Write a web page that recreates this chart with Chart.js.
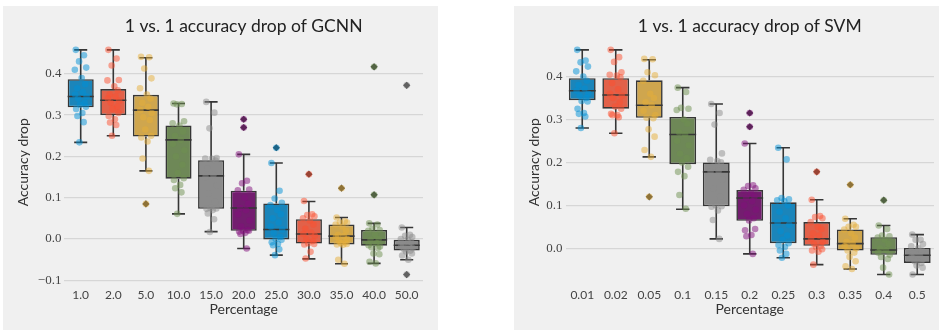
<!DOCTYPE html>
<html>
<head>
<meta charset="utf-8">
<script src="https://cdn.jsdelivr.net/npm/chart.js@4.4.0/dist/chart.umd.min.js"></script>
<style>
  body { margin: 0; background: #fff; width: 939px; height: 330px; position: relative; overflow: hidden; }
  canvas { position: absolute; top: 6px; background: #f0f0f0; }
  #gcnn { left: 3px; }
  #svm { left: 514px; }
</style>
</head>
<body>
<canvas id="gcnn" width="435" height="324"></canvas>
<canvas id="svm" width="425" height="324"></canvas>
<script>
// GCNN panel data
const gcnnLabels = ['1.0', '2.0', '5.0', '10.0', '15.0', '20.0', '25.0', '30.0', '35.0', '40.0', '50.0'];
const gcnnLow  = [0.234, 0.250, 0.165, 0.061, 0.018, -0.023, -0.039, -0.048, -0.060, -0.059, -0.050];
const gcnnQ1   = [0.319, 0.300, 0.248, 0.146, 0.073, 0.020, -0.001, -0.011, -0.013, -0.016, -0.028];
const gcnnMed  = [0.345, 0.336, 0.312, 0.240, 0.153, 0.075, 0.023, 0.012, 0.007, -0.002, -0.015];
const gcnnQ3   = [0.387, 0.363, 0.349, 0.275, 0.191, 0.117, 0.086, 0.048, 0.035, 0.022, -0.002];
const gcnnHigh = [0.458, 0.458, 0.439, 0.328, 0.332, 0.205, 0.184, 0.091, 0.052, 0.038, 0.028];
const gcnnOutliers = [[], [], [0.085], [], [], [0.29, 0.27], [0.221], [0.157], [0.123], [0.417, 0.107], [0.372, -0.086]];
const gcnnPoints = [
  [0.458, 0.445, 0.43, 0.415, 0.41, 0.39, 0.375, 0.365, 0.355, 0.35, 0.345, 0.34, 0.33, 0.325, 0.32, 0.315, 0.305, 0.298, 0.283, 0.234],
  [0.458, 0.437, 0.42, 0.385, 0.384, 0.37, 0.36, 0.35, 0.345, 0.34, 0.335, 0.33, 0.32, 0.315, 0.305, 0.298, 0.29, 0.282, 0.276, 0.25],
  [0.441, 0.44, 0.413, 0.389, 0.365, 0.35, 0.34, 0.33, 0.32, 0.312, 0.305, 0.295, 0.288, 0.265, 0.25, 0.246, 0.236, 0.195, 0.165],
  [0.328, 0.327, 0.326, 0.285, 0.28, 0.275, 0.26, 0.25, 0.24, 0.23, 0.215, 0.2, 0.18, 0.16, 0.147, 0.143, 0.131, 0.123, 0.113, 0.061],
  [0.332, 0.306, 0.268, 0.196, 0.195, 0.194, 0.19, 0.17, 0.155, 0.15, 0.13, 0.11, 0.09, 0.075, 0.074, 0.073, 0.07, 0.062, 0.048, 0.017],
  [0.205, 0.141, 0.135, 0.12, 0.118, 0.1, 0.085, 0.075, 0.07, 0.06, 0.045, 0.03, 0.022, 0.02, 0.02, 0.018, 0.015, 0.012, -0.023],
  [0.184, 0.117, 0.098, 0.088, 0.082, 0.07, 0.06, 0.05, 0.04, 0.03, 0.023, 0.015, 0.005, 0, -0.002, -0.008, -0.012, -0.015, -0.025, -0.039],
  [0.092, 0.06, 0.058, 0.055, 0.05, 0.045, 0.035, 0.025, 0.015, 0.012, 0.008, 0, -0.005, -0.01, -0.012, -0.013, -0.031, -0.047],
  [0.052, 0.043, 0.04, 0.04, 0.035, 0.03, 0.02, 0.01, 0.007, 0.005, 0, -0.005, -0.008, -0.01, -0.012, -0.013, -0.014, -0.05, -0.06],
  [0.038, 0.035, 0.025, 0.022, 0.02, 0.01, 0, -0.002, -0.01, -0.015, -0.018, -0.02, -0.022, -0.035, -0.037, -0.055, -0.059],
  [0.028, 0.01, 0.008, 0.005, 0, -0.002, -0.008, -0.012, -0.015, -0.018, -0.022, -0.025, -0.028, -0.03, -0.035, -0.04, -0.05]
];
const gcnnTicks = [-0.1, 0.0, 0.1, 0.2, 0.3, 0.4];

// SVM panel data
const svmLabels = ['0.01', '0.02', '0.05', '0.1', '0.15', '0.2', '0.25', '0.3', '0.35', '0.4', '0.5'];
const svmLow  = [0.280, 0.268, 0.213, 0.091, 0.022, -0.013, -0.022, -0.038, -0.048, -0.061, -0.061];
const svmQ1   = [0.345, 0.325, 0.304, 0.196, 0.098, 0.064, 0.012, 0.006, -0.005, -0.015, -0.034];
const svmMed  = [0.367, 0.357, 0.333, 0.265, 0.178, 0.117, 0.059, 0.022, 0.011, -0.004, -0.016];
const svmQ3   = [0.396, 0.396, 0.391, 0.306, 0.200, 0.136, 0.107, 0.061, 0.044, 0.026, 0.001];
const svmHigh = [0.462, 0.462, 0.439, 0.374, 0.336, 0.244, 0.234, 0.113, 0.069, 0.053, 0.032];
const svmOutliers = [[], [], [0.120], [], [], [0.315, 0.283], [], [0.178], [0.148], [0.112], []];
const svmPoints = [
  [0.462, 0.437, 0.433, 0.423, 0.412, 0.4, 0.39, 0.38, 0.372, 0.367, 0.36, 0.355, 0.35, 0.343, 0.342, 0.325, 0.315, 0.313, 0.307, 0.28],
  [0.462, 0.445, 0.434, 0.41, 0.404, 0.402, 0.398, 0.385, 0.37, 0.36, 0.355, 0.35, 0.34, 0.33, 0.325, 0.313, 0.31, 0.31, 0.305, 0.268],
  [0.441, 0.44, 0.41, 0.403, 0.39, 0.36, 0.35, 0.34, 0.333, 0.32, 0.31, 0.304, 0.303, 0.277, 0.26, 0.229, 0.213],
  [0.374, 0.364, 0.327, 0.325, 0.322, 0.3, 0.29, 0.27, 0.265, 0.25, 0.24, 0.22, 0.21, 0.2, 0.19, 0.178, 0.168, 0.124, 0.092],
  [0.336, 0.315, 0.288, 0.221, 0.206, 0.203, 0.2, 0.19, 0.18, 0.178, 0.16, 0.14, 0.12, 0.1, 0.098, 0.097, 0.088, 0.066, 0.022],
  [0.244, 0.147, 0.145, 0.14, 0.136, 0.13, 0.12, 0.117, 0.11, 0.1, 0.09, 0.08, 0.07, 0.065, 0.045, 0.042, 0.031, 0.028, -0.013],
  [0.234, 0.207, 0.117, 0.114, 0.112, 0.11, 0.1, 0.085, 0.07, 0.06, 0.055, 0.04, 0.03, 0.02, 0.012, 0.008, 0.003, -0.005, -0.013, -0.022],
  [0.113, 0.075, 0.073, 0.07, 0.061, 0.05, 0.045, 0.035, 0.03, 0.022, 0.015, 0.01, 0.006, 0.003, -0.002, -0.005, -0.008, -0.038],
  [0.069, 0.055, 0.05, 0.05, 0.044, 0.035, 0.025, 0.015, 0.011, 0.005, 0, -0.005, -0.01, -0.02, -0.03, -0.042, -0.048],
  [0.053, 0.045, 0.03, 0.028, 0.025, 0.02, 0.01, 0, -0.004, -0.01, -0.015, -0.02, -0.025, -0.045, -0.061],
  [0.032, 0.02, 0.02, 0.01, 0.005, 0, -0.005, -0.012, -0.016, -0.02, -0.025, -0.03, -0.034, -0.04, -0.045, -0.061]
];
const svmTicks = [0.0, 0.1, 0.2, 0.3, 0.4];

// colours: box faces are the desaturated palette, dots the raw palette
const boxColors = ['#1b85ba', '#e26149', '#cfa64e', '#6e8857', '#8b8b8b', '#731d6f'];
const dotColors = ['rgba(0,143,213,0.5)', 'rgba(252,79,48,0.5)', 'rgba(229,174,56,0.5)',
                   'rgba(109,144,79,0.5)', 'rgba(139,139,139,0.5)', 'rgba(129,15,124,0.5)'];
const lineColor = '#363636';
const jitter = [-0.15, 0.1, -0.05, 0.17, -0.18, 0.03, 0.14, -0.11, 0.07, -0.17, 0.18, -0.08, 0.12, -0.02, 0.16, -0.14, 0.05, -0.1, 0.09, -0.04];

const sans = 'Lato, sans-serif';
const serif = "'Liberation Serif', 'DejaVu Serif', serif";

function makeChart(id, o) {
  const n = o.labels.length;
  const boxes = [], whiskers = [], medians = [], fliers = [], dots = [], dotCol = [];
  for (let i = 0; i < n; i++) {
    boxes.push({ x: i, y: [o.q1[i], o.q3[i]] });
    whiskers.push(
      { x: i, y: o.low[i] }, { x: i, y: o.q1[i] }, { x: i, y: null },
      { x: i, y: o.q3[i] }, { x: i, y: o.high[i] }, { x: i, y: null },
      { x: i - 0.2, y: o.low[i] }, { x: i + 0.2, y: o.low[i] }, { x: i, y: null },
      { x: i - 0.2, y: o.high[i] }, { x: i + 0.2, y: o.high[i] }, { x: i, y: null }
    );
    medians.push({ x: i - 0.4, y: o.med[i] }, { x: i + 0.4, y: o.med[i] }, { x: i, y: null });
    o.outliers[i].forEach(v => {
      fliers.push({ x: i, y: v });
      dots.push({ x: i, y: v });
      dotCol.push(dotColors[i % 6]);
    });
    o.points[i].forEach((v, k) => {
      dots.push({ x: i + jitter[k % jitter.length], y: v });
      dotCol.push(dotColors[i % 6]);
    });
  }

  return new Chart(document.getElementById(id), {
    type: 'bar',
    data: {
      datasets: [
        {
          type: 'bar', data: boxes, order: 5,
          backgroundColor: o.labels.map((_, i) => boxColors[i % 6]),
          borderColor: lineColor, borderWidth: 1.6, borderSkipped: false,
          barPercentage: 0.8, categoryPercentage: 1
        },
        {
          type: 'scatter', data: whiskers, order: 4, showLine: true, spanGaps: false,
          borderColor: lineColor, borderWidth: 1.6, pointRadius: 0
        },
        {
          type: 'scatter', data: medians, order: 3, showLine: true, spanGaps: false,
          borderColor: lineColor, borderWidth: 1.6, pointRadius: 0
        },
        {
          type: 'scatter', data: fliers, order: 2, pointStyle: 'rectRot',
          pointRadius: 3.6, backgroundColor: lineColor, borderColor: lineColor, borderWidth: 0
        },
        {
          type: 'scatter', data: dots, order: 1,
          pointRadius: 3.3, backgroundColor: dotCol, borderWidth: 0
        }
      ]
    },
    options: {
      responsive: false,
      animation: false,
      layout: { padding: { left: 0, right: o.padRight, top: 0, bottom: 0 } },
      plugins: {
        legend: { display: false },
        tooltip: { enabled: false },
        title: {
          display: true, text: o.title, fullSize: false,
          font: { family: sans, size: 17.5, weight: 'normal' }, color: '#222',
          padding: { top: 10, bottom: 1.7 }
        }
      },
      scales: {
        x: {
          type: 'linear', min: -0.5, max: n - 0.5, offset: false,
          grid: { display: false, drawTicks: false },
          border: { display: false },
          afterBuildTicks: s => { s.ticks = o.labels.map((_, i) => ({ value: i })); },
          afterFit: s => { s.height = 44.3; },
          ticks: {
            autoSkip: false, maxRotation: 0, padding: 2,
            font: { family: sans, size: 12 }, color: '#444',
            callback: v => o.labels[v]
          },
          title: {
            display: true, text: 'Percentage', color: '#333',
            font: { family: sans, size: 14 }, padding: { top: 0, bottom: 12.6 }
          }
        },
        y: {
          min: o.yMin, max: o.yMax,
          grid: { color: '#d6d6d6', lineWidth: 1.3, drawTicks: false },
          border: { display: false },
          afterBuildTicks: s => { s.ticks = o.ticks.map(v => ({ value: v })); },
          afterFit: s => { s.width = o.axisWidth; },
          ticks: {
            padding: 3,
            font: { family: serif, size: 13 }, color: '#444',
            callback: v => v.toFixed(1).replace('-', '\u2212')
          },
          title: {
            display: true, text: 'Accuracy drop', color: '#333',
            font: { family: sans, size: 14 }, padding: { top: 12, bottom: 0 }
          }
        }
      }
    }
  });
}

makeChart('gcnn', {
  title: '1 vs. 1 accuracy drop of GCNN',
  labels: gcnnLabels, low: gcnnLow, q1: gcnnQ1, med: gcnnMed, q3: gcnnQ3, high: gcnnHigh,
  outliers: gcnnOutliers, points: gcnnPoints, ticks: gcnnTicks,
  yMin: -0.113, yMax: 0.485, axisWidth: 61.4, padRight: 15
});

makeChart('svm', {
  title: '1 vs. 1 accuracy drop of SVM',
  labels: svmLabels, low: svmLow, q1: svmQ1, med: svmMed, q3: svmQ3, high: svmHigh,
  outliers: svmOutliers, points: svmPoints, ticks: svmTicks,
  yMin: -0.087, yMax: 0.488, axisWidth: 51.5, padRight: 5
});
</script>
</body>
</html>
